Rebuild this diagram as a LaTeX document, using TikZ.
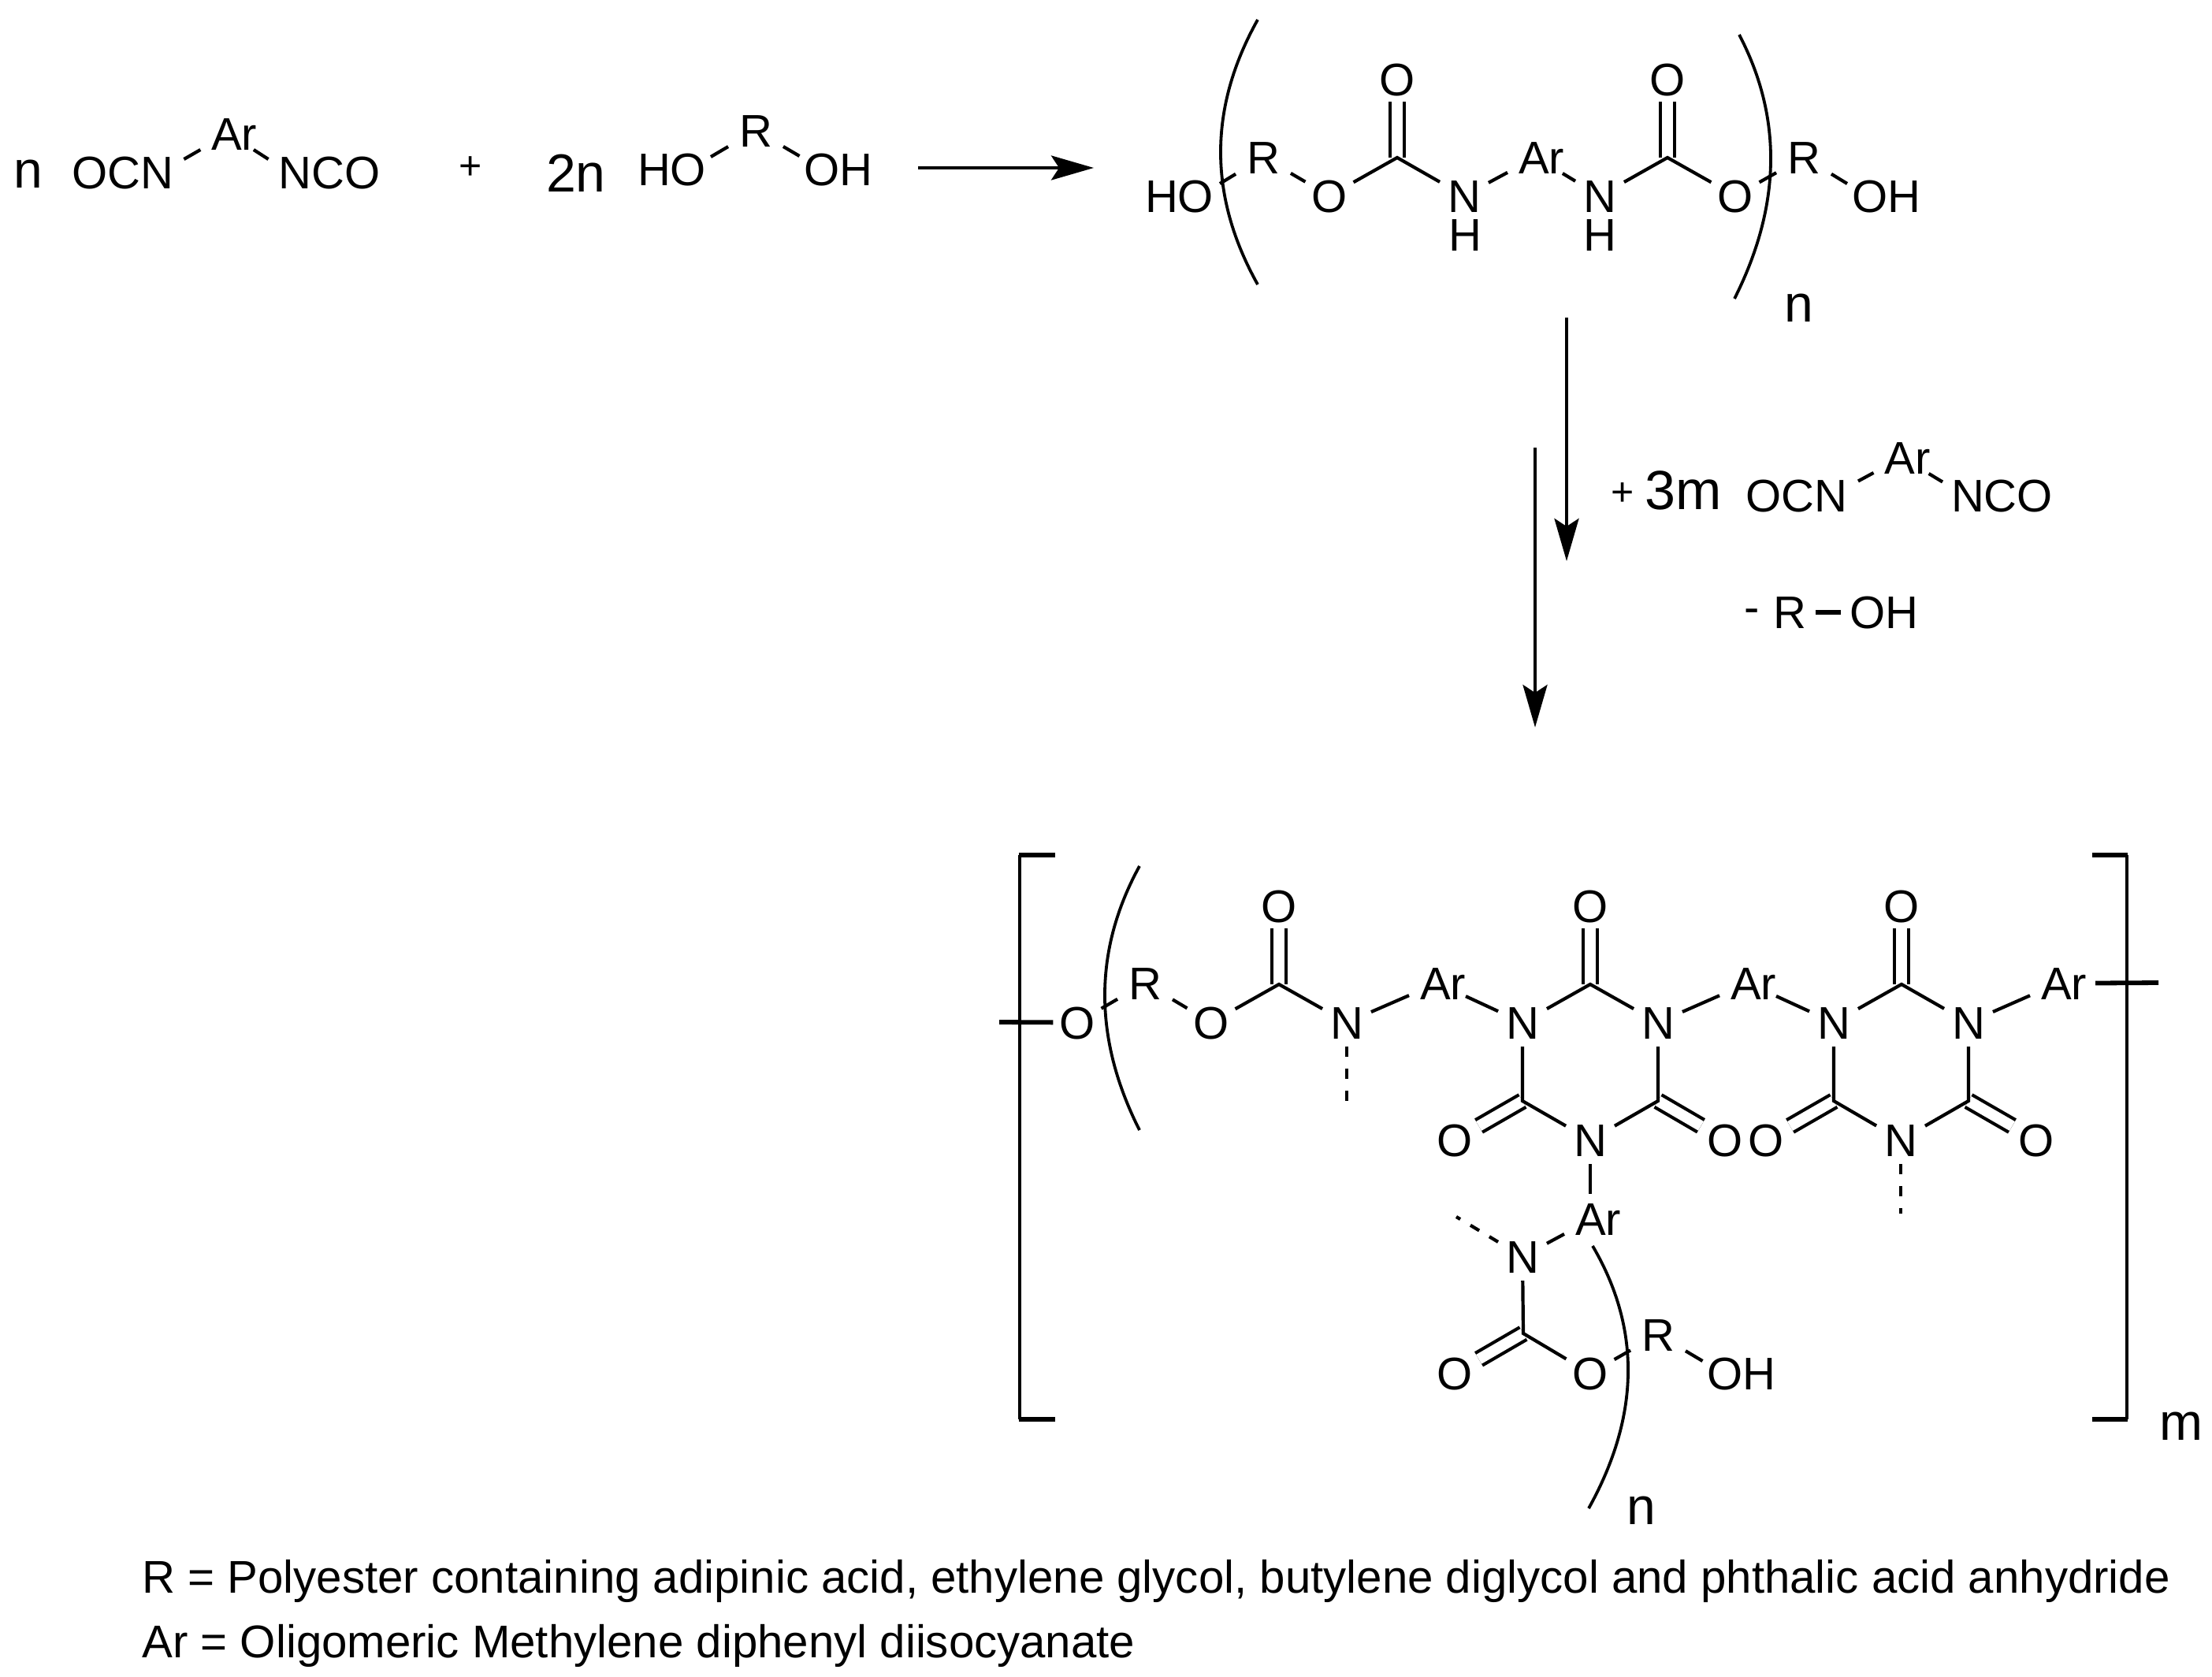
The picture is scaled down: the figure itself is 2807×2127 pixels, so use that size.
\documentclass[tikz,border=0pt]{standalone}
\usepackage{fontspec}
\setmainfont{Liberation Sans}
\usetikzlibrary{arrows.meta}
\tikzset{
  atomtxt/.style={inner sep=0pt,text height=20.5pt,text depth=0pt,font=\fontsize{29}{31}\selectfont},
  grp/.style={atomtxt,outer sep=0pt},
  ato/.style={atomtxt,outer sep=4pt},
  atn/.style={atomtxt,outer sep=5pt},
  atr/.style={atomtxt,outer sep=7pt},
  atar/.style={atomtxt,outer sep=0pt},
  atn0/.style={atomtxt,outer sep=0pt},
  sub/.style={inner sep=0pt,anchor=base,font=\fontsize{33}{35}\selectfont},
  plus/.style={inner sep=0pt,font=\fontsize{25}{27}\selectfont},
  legend/.style={inner sep=0pt,anchor=base west,font=\fontsize{29.1}{31}\selectfont},
  bond/.style={line width=2.1pt},
  heavy/.style={line width=2.9pt},
  dbl/.style={line width=2.1pt,double,double distance=6.8pt},
  dashb/.style={line width=2.1pt,dash pattern=on 6.5pt off 7.5pt},
  arc/.style={line width=1.9pt},
  rxn/.style={line width=2.2pt,-{Stealth[length=27pt,width=15.5pt,inset=5pt]}},
}
\newcommand{\Artxt}{\hspace*{7pt}Ar}
\begin{document}
\begin{tikzpicture}[x=0.5pt,y=-0.5pt]
\useasboundingbox (0,0) rectangle (2807,2127);
\fill[white] (0,0) rectangle (2807,2127);

% ---- first line reactants
\node[sub] (na) at (36,238) {n};
\node[grp] (ocna) at (156,218.5) {OCN};
\node[atar] (ara) at (290,169.5) {\Artxt};
\node[grp] (ncoa) at (418,218.5) {NCO};
\node[plus] (pa) at (597,213) {+};
\node[sub,font=\fontsize{34}{36}\selectfont] (twon) at (731,243) {2n};
\node[grp] (hoa) at (852.5,214.5) {HO};
\node[atr] (ra) at (959,165.5) {R};
\node[grp] (oha) at (1064,214.5) {OH};
\draw[bond] ([shift={(13,4)}]ocna.north east) -- (ara);
\draw[bond] (ara) -- ([shift={(-13,4)}]ncoa.north west);
\draw[bond] ([shift={(6,5)}]hoa.north east) -- (ra);
\draw[bond] (ra) -- ([shift={(-6,4)}]oha.north west);
\coordinate (a1s) at (1165,213);
\coordinate (a1e) at (1388,213);
\draw[rxn] (a1s) -- (a1e);

% ---- urethane prepolymer
\node[grp] (hob) at (1496.5,248.5) {HO};
\node[atr] (rb1) at (1603,199.5) {R};
\node[ato] (ob1) at (1687,248.5) {O};
\coordinate (cb1) at (1773,200);
\node[ato] (ob2) at (1773,100.5) {O};
\node[atn] (nb1) at (1858,248.5) {N};
\node[atn0] (hb1) at (1859,297.5) {H};
\node[atar] (arb) at (1949,199.5) {\Artxt};
\node[atn] (nb2) at (2030,248.5) {N};
\node[atn0] (hb2) at (2030,297.5) {H};
\coordinate (cb2) at (2116,200);
\node[ato] (ob3) at (2116,100.5) {O};
\node[ato] (ob4) at (2202,248.5) {O};
\node[atr] (rb2) at (2289,199.5) {R};
\node[grp] (ohb) at (2393.5,248.5) {OH};
\node[sub] (nb) at (2283,408) {n};
\draw[dbl] (ob2) -- (cb1);
\draw[dbl] (ob3) -- (cb2);
\draw[bond] ([shift={(8,5)}]hob.north east) -- (rb1);
\draw[bond] (rb1) -- (ob1);
\draw[bond] (ob1) -- (cb1) -- (nb1);
\draw[bond] (nb1) -- (arb);
\draw[bond] (arb) -- (nb2);
\draw[bond] (nb2) -- (cb2) -- (ob4);
\draw[bond] (ob4) -- (rb2);
\draw[bond] (rb2) -- ([shift={(-6,5)}]ohb.north west);
\draw[arc] (1596,25) .. controls (1533.3,137) and (1533.3,249) .. (1596,361);
\draw[arc] (2207,44) .. controls (2262.3,149.7) and (2260.3,261.3) .. (2201,379);

% ---- arrows and second reagent
\coordinate (a2s) at (1988,403);
\coordinate (a2e) at (1988,712);
\coordinate (a3s) at (1948,568);
\coordinate (a3e) at (1948,923);
\draw[rxn] (a2s) -- (a2e);
\draw[rxn] (a3s) -- (a3e);
\node[plus] (pc) at (2059,627) {+};
\node[sub,font=\fontsize{35}{37}\selectfont] (threem) at (2136.5,646) {3m};
\node[grp] (ocnc) at (2279.5,629) {OCN};
\node[atar] (arc1) at (2413.5,580.5) {\Artxt};
\node[grp] (ncoc) at (2540.5,629) {NCO};
\draw[bond] ([shift={(14,2)}]ocnc.north east) -- (arc1);
\draw[bond] (arc1) -- ([shift={(-11,3)}]ncoc.north west);
\node[plus,font=\fontsize{29}{31}\selectfont] (minus) at (2223.5,782) {-};
\node[atomtxt,outer sep=6pt] (rc) at (2271,777) {R};
\node[grp] (ohc) at (2390.5,777) {OH};
\draw[heavy] (rc) -- ([xshift=-5.5pt]ohc.west);

% ---- final polymer
\coordinate (lf) at (1268,1297);
\node[ato] (o1) at (1367,1297.5) {O};
\node[atr] (r1) at (1453,1247.5) {R};
\node[ato] (o2) at (1537,1297.5) {O};
\coordinate (c1) at (1623,1249);
\node[ato] (o3) at (1623,1149.5) {O};
\node[atn] (n1) at (1709,1297.5) {N};
\coordinate (d1) at (1709,1397);
\node[atar] (ar1) at (1824,1247.5) {\Artxt};
\node[atn] (n2) at (1932,1297.5) {N};
\coordinate (c2) at (2018,1249);
\node[ato] (o4) at (2018,1149.5) {O};
\node[atn] (n3) at (2104,1297.5) {N};
\coordinate (c3) at (1932,1397);
\coordinate (c4) at (2104,1397);
\node[atn] (n4) at (2018,1446.5) {N};
\node[ato] (o5) at (1846,1446.5) {O};
\node[ato] (o6) at (2189,1446.5) {O};
\node[atar] (ar2) at (2218,1247.5) {\Artxt};
\node[atn] (n5) at (2327,1297.5) {N};
\coordinate (c5) at (2413,1249);
\node[ato] (o7) at (2413,1149.5) {O};
\node[atn] (n6) at (2498,1297.5) {N};
\coordinate (c6) at (2327,1397);
\coordinate (c7) at (2498,1397);
\node[atn] (n7) at (2412,1446.5) {N};
\coordinate (d2) at (2412,1540);
\node[ato] (o8) at (2241,1446.5) {O};
\node[ato] (o9) at (2584,1446.5) {O};
\node[atar] (ar3) at (2612,1247.5) {\Artxt};
\coordinate (rt) at (2739,1247);
\node[atar] (ar4) at (2021,1546.5) {\Artxt};
\node[atn] (n8) at (1932,1594.5) {N};
\coordinate (d3) at (1848,1544);
\coordinate (c8) at (1933,1692);
\node[ato] (o10) at (1846,1742.5) {O};
\node[ato] (o11) at (2018,1742.5) {O};
\node[atr] (r2) at (2104,1693.5) {R};
\node[grp] (oh2) at (2210,1742.5) {OH};
\node[sub] (nc) at (2083,1934) {n};
\node[sub] (mc) at (2768,1827) {m};

\draw[dbl] (o3) -- (c1);
\draw[dbl] (o4) -- (c2);
\draw[dbl] (o7) -- (c5);
\draw[dbl] (o5) -- (c3);
\draw[dbl] (o6) -- (c4);
\draw[dbl] (o8) -- (c6);
\draw[dbl] (o9) -- (c7);
\draw[dbl] (o10) -- (c8);
\draw[heavy] (lf) -- (o1);
\draw[bond] (o1) -- (r1);
\draw[bond] (r1) -- (o2);
\draw[bond] (o2) -- (c1) -- (n1);
\draw[dashb] (n1) -- (d1);
\draw[bond] (n1) -- (ar1);
\draw[bond] (ar1) -- (n2);
\draw[bond] (n2) -- (c2) -- (n3);
\draw[bond] (n2) -- (c3) -- (n4);
\draw[bond] (n3) -- (c4) -- (n4);
\draw[bond] (n3) -- (ar2);
\draw[bond] (ar2) -- (n5);
\draw[bond] (n5) -- (c5) -- (n6);
\draw[bond] (n5) -- (c6) -- (n7);
\draw[bond] (n6) -- (c7) -- (n7);
\draw[bond] (n6) -- (ar3);
\draw[dashb] (n7) -- (d2);
\draw[heavy] ([xshift=5.5pt]ar3.east) -- (rt);
\draw[bond,shorten >=5.5pt] (n4) -- (ar4.north -| n4);
\draw[bond] (n8) -- (ar4);
\draw[dashb] (n8) -- (d3);
\draw[bond] (n8) -- (c8) -- (o11);
\draw[bond] (o11) -- (r2);
\draw[bond] (r2) -- ([shift={(-6,5)}]oh2.north west);

\draw[arc] (1446,1099) .. controls (1387.3,1206) and (1387.3,1317.7) .. (1446,1434);
\draw[arc] (2021,1581) .. controls (2082.7,1686) and (2081,1797) .. (2016,1914);

% brackets
\draw[line width=2pt] (1294,1085) -- (1294,1801);
\draw[heavy] (1293,1085) -- (1339,1085);
\draw[heavy] (1293,1801) -- (1339,1801);
\draw[line width=2pt] (2699,1085) -- (2699,1801);
\draw[heavy] (2655,1085) -- (2700,1085);
\draw[heavy] (2655,1801) -- (2700,1801);

% legend
\node[legend] (l1) at (180,2021) {R = Polyester containing adipinic acid, ethylene glycol, butylene diglycol and phthalic acid anhydride};
\node[legend] (l2) at (180,2103) {Ar = Oligomeric Methylene diphenyl diisocyanate};
\end{tikzpicture}
\end{document}
